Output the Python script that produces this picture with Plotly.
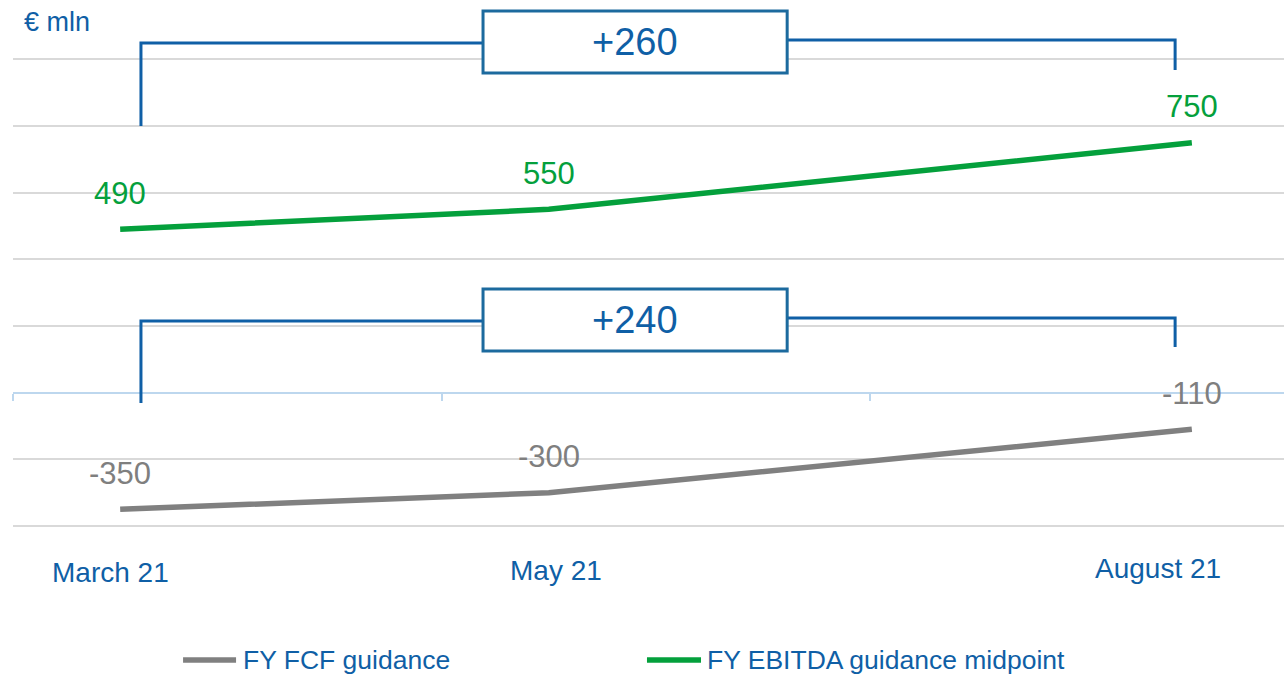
import plotly.graph_objects as go

# ---- data ----
months = [3, 5, 8]                      # March, May, August (month number, 2021)
month_labels = ["March 21", "May 21", "August 21"]
fcf = [-350, -300, -110]                # FY FCF guidance
ebitda = [490, 550, 750]                # FY EBITDA guidance midpoint
grid_vals = [-400, -200, 200, 400, 600, 800, 1000]

BLUE = "#0F5FA6"
BOX_BLUE = "#1C6A9E"
GREEN = "#04A03C"
GRAY = "#808080"
GRAY_TXT = "#7F7F7F"
FONT = "Liberation Sans, Arial, sans-serif"

fig = go.Figure()
fig.add_trace(go.Scatter(x=months, y=fcf, mode="lines", name="FY FCF guidance",
                         line=dict(color=GRAY, width=5.5), hoverinfo="skip", showlegend=False))
fig.add_trace(go.Scatter(x=months, y=ebitda, mode="lines", name="FY EBITDA guidance midpoint",
                         line=dict(color=GREEN, width=5.5), hoverinfo="skip", showlegend=False))

ann = []
# data labels
for xv, yv in zip(months, ebitda):
    ann.append(dict(x=xv, y=yv, text=str(yv), showarrow=False, yshift=36,
                    font=dict(size=31, color=GREEN, family=FONT)))
for xv, yv in zip(months, fcf):
    ann.append(dict(x=xv, y=yv, text=str(yv), showarrow=False, yshift=36,
                    font=dict(size=31, color=GRAY_TXT, family=FONT)))

# category labels (below the plot area, paper y)
label_x = [2.953, 5.034, 7.843]
label_y = [-0.086, -0.0822, -0.0765]
for xv, yv, t in zip(label_x, label_y, month_labels):
    ann.append(dict(x=xv, xref="x", y=yv, yref="paper", yanchor="middle", text=t,
                    showarrow=False, font=dict(size=28, color=BLUE, family=FONT)))

# unit label
ann.append(dict(x=2.54, y=1112, text="€ mln", showarrow=False, xanchor="left",
                font=dict(size=27, color=BLUE, family=FONT)))

shapes = []

def bracket(left_bottom, left_top, right_top, right_bottom, box_bottom, box_top, diff):
    xl, xr = 3.097, 7.922
    bx0, bx1 = 4.693, 6.112
    ln = dict(color=BLUE, width=3)
    shapes.append(dict(type="path", xref="x", yref="y",
                       path=f"M{xl},{left_bottom} L{xl},{left_top} L{bx0},{left_top}",
                       line=ln))
    shapes.append(dict(type="path", xref="x", yref="y",
                       path=f"M{bx1},{right_top} L{xr},{right_top} L{xr},{right_bottom}",
                       line=ln))
    shapes.append(dict(type="rect", xref="x", yref="y", x0=bx0, x1=bx1,
                       y0=box_bottom, y1=box_top, fillcolor="white",
                       line=dict(color=BOX_BLUE, width=3)))
    ann.append(dict(x=(bx0 + bx1) / 2, y=(box_bottom + box_top) / 2,
                    text=f"+{diff}", showarrow=False,
                    font=dict(size=38, color=BLUE, family=FONT)))

bracket(800, 1049, 1058, 968, 959, 1145, ebitda[-1] - ebitda[0])
bracket(-31, 215, 224, 137, 125, 311, fcf[-1] - fcf[0])

# custom legend
leg_y = -0.2524
for x0, x1, tx, col, name in [(0.1338, 0.1755, 0.1794, GRAY, "FY FCF guidance"),
                              (0.4988, 0.5413, 0.5445, GREEN, "FY EBITDA guidance midpoint")]:
    shapes.append(dict(type="line", xref="paper", yref="paper", x0=x0, x1=x1,
                       y0=leg_y, y1=leg_y, line=dict(color=col, width=5.5)))
    ann.append(dict(xref="paper", yref="paper", x=tx, y=leg_y, text=name,
                    showarrow=False, xanchor="left", yanchor="middle",
                    font=dict(size=26.5, color=BLUE, family=FONT)))

fig.update_layout(
    width=1284, height=675,
    margin=dict(l=13, r=0, t=5, b=147),
    paper_bgcolor="white", plot_bgcolor="white",
    showlegend=False,
    annotations=ann, shapes=shapes,
    xaxis=dict(range=[2.5, 8.43], anchor="free", position=406 / 1569,
               showline=True, linecolor="#BDD7EE", linewidth=2,
               ticks="outside", tickvals=[2.5, 4.5, 6.5], ticklen=7,
               tickcolor="#BDD7EE", tickwidth=2,
               showticklabels=False, showgrid=False, zeroline=False),
    yaxis=dict(range=[-406, 1163], tickvals=grid_vals, showticklabels=False,
               showgrid=True, gridcolor="#D9D9D9", gridwidth=2,
               zeroline=False, showline=False),
)

fig.write_html("out.html", config={"displayModeBar": False},
               post_script="document.body.style.margin='0';")
